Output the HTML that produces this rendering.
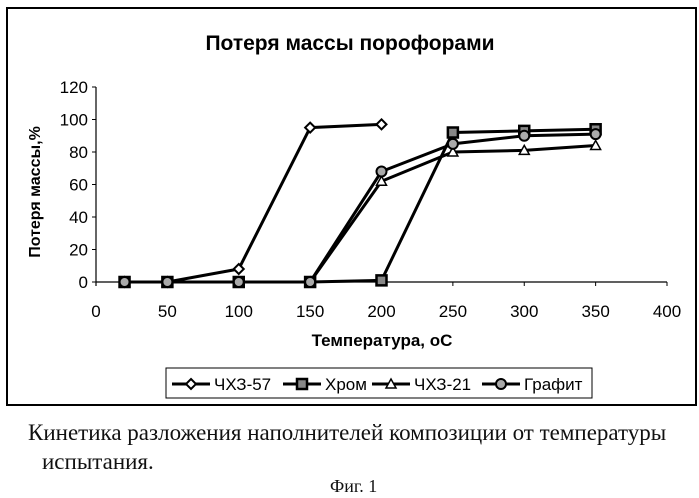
<!DOCTYPE html>
<html><head><meta charset="utf-8"><style>
body{margin:0;background:#fff;width:699px;height:498px;overflow:hidden;font-family:"Liberation Sans",sans-serif}
svg{position:absolute;left:0;top:0}
.cap{position:absolute;font-family:"Liberation Serif",serif;font-size:23px;color:#111;white-space:nowrap}
</style></head><body>
<svg width="699" height="498">
<rect x="7" y="8" width="689" height="397" fill="none" stroke="#000" stroke-width="2"/>
<text x="350" y="50" text-anchor="middle" font-size="21" font-weight="bold">Потеря массы порофорами</text>
<g id="axes"></g><g id="series"></g>
<text transform="translate(40,192) rotate(-90)" text-anchor="middle" font-size="16" font-weight="bold">Потеря массы,%</text>
<text x="382" y="346" text-anchor="middle" font-size="17" font-weight="bold">Температура, оС</text>
<g id="legend"><rect x="166" y="368" width="426" height="30" fill="#fff" stroke="#000" stroke-width="1"/></g>
</svg>
<div class="cap" style="left:28px;top:420px">Кинетика разложения наполнителей композиции от температуры</div>
<div class="cap" style="left:42px;top:449px">испытания.</div>
<div class="cap" style="left:330px;top:476px;font-size:18px">Фиг. 1</div>
<script>
const xTicks=[0,50,100,150,200,250,300,350,400];
const yTicks=[0,20,40,60,80,100,120];
const temps=[20,50,100,150,200,250,300,350];
const chz57=[0,0,8,95,97,null,null,null];
const chrom=[0,0,0,0,1,92,93,94];
const chz21=[0,0,0,0,62,80,81,84];
const graphite=[0,0,0,0,68,85,90,91];
const names=["ЧХЗ-57","Хром","ЧХЗ-21","Графит"];
const markers=["diamond","square","triangle","circle"];
const NS="http://www.w3.org/2000/svg";
const X0=96,X1=667,Y0=282,Y1=87;
const sx=v=>X0+(v-0)/(400-0)*(X1-X0);
const sy=v=>Y0-(v-0)/(120-0)*(Y0-Y1);
function mk(t,a,p){const e=document.createElementNS(NS,t);for(const k in a)e.setAttribute(k,a[k]);p.appendChild(e);return e;}
const ax=document.getElementById('axes');
let yl=mk('line',{x1:X0,y1:Y1,x2:X0,y2:Y0+4,stroke:'#000','stroke-width':1.2},ax);


let xl=mk('line',{x1:X0,y1:Y0,x2:X1,y2:Y0,stroke:'#000','stroke-width':1.2},ax);


yTicks.forEach(v=>{mk('line',{x1:X0-4,y1:sy(v),x2:X0,y2:sy(v),stroke:'#000'},ax);
 const t=mk('text',{x:X0-8,y:sy(v)+6,'text-anchor':'end','font-size':17},ax);t.textContent=v;
 
 });
xTicks.forEach(v=>{mk('line',{x1:sx(v),y1:Y0,x2:sx(v),y2:Y0+4,stroke:'#000'},ax);
 const t=mk('text',{x:sx(v),y:Y0+35,'text-anchor':'middle','font-size':17},ax);t.textContent=v;
 
 });
function marker(type,x,y,p){
 const s={fill:'#fff',stroke:'#000','stroke-width':2};
 if(type==='diamond')return mk('polygon',Object.assign({points:`${x},${y-5} ${x+5},${y} ${x},${y+5} ${x-5},${y}`},s),p);
 if(type==='square')return mk('rect',Object.assign({x:x-5,y:y-5,width:10,height:10},s,{fill:'#888','stroke-width':2.5}),p);
 if(type==='triangle')return mk('polygon',Object.assign({points:`${x},${y-5} ${x+5},${y+4} ${x-5},${y+4}`},s,{'stroke-width':1.5}),p);
 return mk('circle',Object.assign({cx:x,cy:y,r:5},s,{fill:'#aaa'}),p);
}
const sg=document.getElementById('series');
[chz57,chrom,chz21,graphite].forEach((arr,i)=>{
 const g=mk('g',{},sg);
 
 
 const pts=[];arr.forEach((v,j)=>{if(v!==null)pts.push([sx(temps[j]),sy(v)]);});
 mk('polyline',{points:pts.map(p=>p.join(',')).join(' '),fill:'none',stroke:'#000','stroke-width':3},g);
 pts.forEach(p=>{const m=marker(markers[i],p[0],p[1],g);
  
  });
});
const lg=document.getElementById('legend');
const lx=[172,283,372,482];
names.forEach((n,i)=>{
 const g=mk('g',{},lg);
 
 
 mk('line',{x1:lx[i],y1:384,x2:lx[i]+38,y2:384,stroke:'#000','stroke-width':3},g);
 marker(markers[i],lx[i]+19,384,g);
 const t=mk('text',{x:lx[i]+42,y:390,'font-size':17},g);t.textContent=n;
});
</script>
</body></html>
